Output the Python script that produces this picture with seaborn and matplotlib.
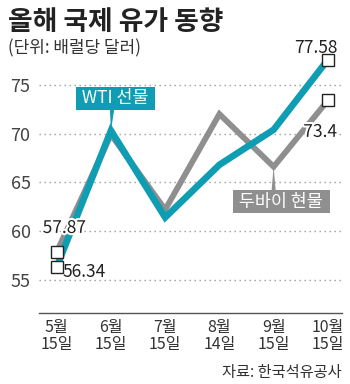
import matplotlib
matplotlib.use("Agg")
import matplotlib.pyplot as plt
import matplotlib.patheffects as pe
import seaborn as sns
import pandas as pd
from matplotlib.patches import Polygon

sns.set_theme(style="white")
plt.rcParams['font.family'] = ['Noto Sans CJK KR', 'DejaVu Sans']

# Oil price data (USD per barrel)
dates = ["5월\n15일", "6월\n15일", "7월\n15일", "8월\n14일", "9월\n15일", "10월\n15일"]
wti = [56.34, 70.3, 61.4, 66.8, 70.4, 77.58]
dubai = [57.87, 69.9, 62.2, 72.0, 66.6, 73.4]
yticks = [55, 60, 65, 70, 75]

TEAL = "#0e9db3"
GRAY = "#8f8f8f"

df = pd.DataFrame({
    "x": list(range(len(dates))) * 2,
    "price": wti + dubai,
    "series": ["WTI 선물"] * len(dates) + ["두바이 현물"] * len(dates),
})

fig = plt.figure(figsize=(3.5, 3.84), dpi=100)
ax = fig.add_axes([0.111, 0.185, 0.866, 0.721])

for y in yticks:
    ax.axhline(y, color="#9a9a9a", lw=1.0, ls=(0, (1, 2.6)), zorder=0)

sns.lineplot(data=df[df.series == "두바이 현물"], x="x", y="price", color=GRAY,
             lw=4.2, ax=ax, zorder=2, solid_joinstyle="miter")
sns.lineplot(data=df[df.series == "WTI 선물"], x="x", y="price", color=TEAL,
             lw=4.8, ax=ax, zorder=3, solid_joinstyle="miter")

# open square markers on first and last points
ends = [0, len(dates) - 1]
for vals in (wti, dubai):
    ax.plot(ends, [vals[i] for i in ends], ls="none", marker="s", ms=9,
            mfc="white", mec="#222222", mew=1.0, zorder=5, clip_on=False)

ax.set_xlim(-0.33, 5.26)
ax.set_ylim(51.6, 80)
ax.set_xticks(range(len(dates)))
ax.set_xticklabels(dates, fontsize=11.5, color="#333333", linespacing=1.05)
ax.set_yticks(yticks)
ax.set_yticklabels([str(v) for v in yticks], fontsize=13, color="#444444")
ax.set_xlabel("")
ax.set_ylabel("")
if ax.legend_:
    ax.legend_.remove()

for s in ["top", "right", "left"]:
    ax.spines[s].set_visible(False)
ax.spines["bottom"].set_color("#555555")
ax.spines["bottom"].set_linewidth(1.0)
ax.tick_params(axis="x", direction="in", length=4.5, width=1, color="#555555", pad=4)
ax.tick_params(axis="y", length=0, pad=6)

# value labels
halo = [pe.withStroke(linewidth=3, foreground="white")]
lab = dict(fontsize=12.5, color="#222222", zorder=6)
ax.text(5.17, 77.85, f"{wti[-1]:.2f}", ha="right", va="bottom", **lab)
ax.text(5.17, 71.1, f"{dubai[-1]}", ha="right", va="top", path_effects=halo, **lab)
ax.text(-0.26, 59.4, f"{dubai[0]:.2f}", ha="left", va="bottom", path_effects=halo, **lab)
ax.text(0.11, 55.8, f"{wti[0]:.2f}", ha="left", va="center", **lab)

# series name tags with pointers
ax.text(1.08, 73.6, " WTI 선물 ", ha="center", va="center", fontsize=12.5, color="white",
        zorder=7, bbox=dict(boxstyle="square,pad=0.15", fc=TEAL, ec="none"))
ax.add_patch(Polygon([[1.0, wti[1]], [0.98, 72.5], [1.06, 72.5]], closed=True,
                     fc=TEAL, ec="none", zorder=6))
ax.text(4.14, 63.0, " 두바이 현물 ", ha="center", va="center", fontsize=12.5, color="white",
        zorder=7, bbox=dict(boxstyle="square,pad=0.15", fc=GRAY, ec="none"))
ax.add_patch(Polygon([[4.0, dubai[4]], [3.96, 64.0], [4.04, 64.0]], closed=True,
                     fc=GRAY, ec="none", zorder=6))

fig.text(0.023, 0.978, "올해 국제 유가 동향", ha="left", va="top", fontsize=19.3,
         fontweight="bold", color="#222222")
fig.text(0.023, 0.897, "(단위: 배럴당 달러)", ha="left", va="top", fontsize=12.2,
         color="#333333")
fig.text(0.977, 0.03, "자료: 한국석유공사", ha="right", va="center", fontsize=11,
         color="#333333")

fig.savefig("out.png", dpi=100, facecolor="white")
